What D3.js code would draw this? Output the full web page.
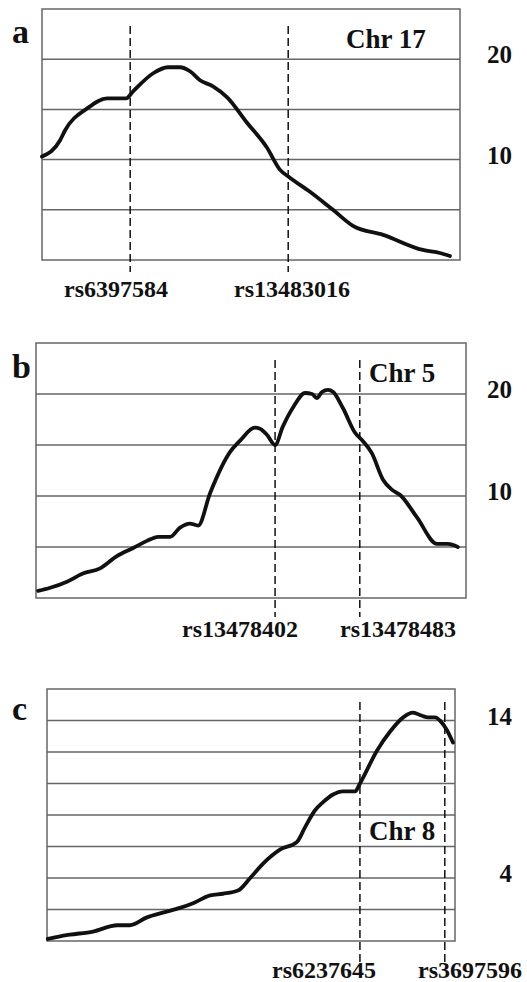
<!DOCTYPE html>
<html>
<head>
<meta charset="utf-8">
<title>LOD profiles</title>
<script src="https://cdn.jsdelivr.net/npm/d3@7"></script>
<style>
body { margin: 0; background: #fff; }
text { font-family: "Liberation Serif", "Times New Roman", serif; font-weight: bold; fill: #111; }
.grid line { stroke: #666; stroke-width: 1.5px; }
.frame { fill: none; stroke: #666; stroke-width: 1.5px; }
.marker { stroke: #111; stroke-width: 1.5px; stroke-dasharray: 8,4; }
.curve { fill: none; stroke: #111; stroke-width: 3.8px; stroke-linejoin: round; stroke-linecap: round; }
</style>
</head>
<body>
<svg width="527" height="982"></svg>
<script>

// panel a - Chr 17
var posA = [0, 4.3, 5.5, 10.8, 15.6, 20.1, 21.8, 26.6, 30.1, 33.0, 35.4, 37.8, 40.9, 44.3, 49.0, 53.8, 56.9, 59.3, 64.1, 69.6, 74.4, 81.6, 91.1, 95.2, 97.6];
var lodA = [10.3, 11.9, 12.9, 15.1, 16.1, 16.1, 16.8, 18.6, 19.2, 19.2, 18.8, 17.9, 17.3, 16.2, 13.7, 11.2, 9.0, 8.2, 6.8, 5.0, 3.4, 2.5, 1.0, 0.7, 0.4];
var markersA = [21.1, 58.9];
var markerNamesA = ["rs6397584", "rs13483016"];

// panel b - Chr 5
var posB = [0.5, 3.3, 7.2, 10.9, 14.9, 18.8, 22.6, 25.8, 28.4, 31.2, 33.5, 35.8, 37.7, 40.5, 45.1, 47.4, 50.9, 52.1, 53.7, 55.6, 57.4, 59.8, 62.6, 64.2, 65.3, 66.5, 67.9, 69.1, 71.4, 74.2, 76.0, 78.1, 80.7, 82.8, 84.7, 88.6, 93.3, 95.8, 98.1];
var lodB = [0.7, 1.0, 1.6, 2.4, 2.9, 4.1, 4.9, 5.6, 6.0, 6.0, 6.9, 7.3, 7.1, 10.3, 14.3, 15.4, 16.7, 16.6, 16.0, 15.0, 16.8, 18.7, 20.1, 20.0, 19.6, 20.2, 20.4, 20.2, 18.6, 16.2, 15.4, 14.2, 11.6, 10.6, 10.1, 7.9, 5.3, 5.3, 5.0];
var markersB = [55.6, 75.3];
var markerNamesB = ["rs13478402", "rs13478483"];

// panel c - Chr 8
var posC = [0.2, 3.2, 5.6, 11.3, 17.2, 20.3, 24.5, 28.4, 32.6, 35.8, 40.0, 43.1, 46.8, 49.8, 52.9, 57.1, 61.3, 63.2, 65.7, 67.6, 70.1, 72.5, 75.5, 76.7, 80.9, 84.1, 87.3, 89.7, 91.9, 93.4, 95.1, 96.3, 98.0, 99.5];
var lodC = [0.13, 0.3, 0.4, 0.6, 1.0, 1.0, 1.5, 1.8, 2.1, 2.4, 2.9, 3.0, 3.2, 4.0, 4.9, 5.8, 6.3, 7.2, 8.3, 8.8, 9.3, 9.5, 9.5, 10.0, 12.1, 13.3, 14.2, 14.5, 14.3, 14.2, 14.2, 14.0, 13.4, 12.6];
var markersC = [76.7, 97.5];
var markerNamesC = ["rs6237645", "rs3697596"];

var svg = d3.select("svg");

var panels = [
  { letter: "a", chr: "Chr 17", pos: posA, lod: lodA, markers: markersA, names: markerNamesA,
    box: [42, 460, 9, 260], ymax: 25, step: 5, labels: [20, 10],
    letterXY: [12, 43], chrXY: [346, 48], dashY: [26, 272], nameX: [116, 292], nameY: 297 },
  { letter: "b", chr: "Chr 5", pos: posB, lod: lodB, markers: markersB, names: markerNamesB,
    box: [36, 466, 343, 598], ymax: 25, step: 5, labels: [20, 10],
    letterXY: [12, 378], chrXY: [369, 382], dashY: [360, 617], nameX: [240, 398], nameY: 637 },
  { letter: "c", chr: "Chr 8", pos: posC, lod: lodC, markers: markersC, names: markerNamesC,
    box: [47, 455, 689, 941], ymax: 16, step: 2, labels: [14, 4],
    letterXY: [12, 720], chrXY: [369, 840], dashY: [702, 962], nameX: [324, 470], nameY: 978 }
];

panels.forEach(function(p) {
  var x = d3.scaleLinear().domain([0, 100]).range([p.box[0], p.box[1]]);
  var y = d3.scaleLinear().domain([0, p.ymax]).range([p.box[3], p.box[2]]);
  var g = svg.append("g");

  var ticks = d3.range(p.step, p.ymax, p.step);
  g.append("g").attr("class", "grid")
    .selectAll("line")
    .data(ticks)
    .enter().append("line")
      .attr("x1", x(0)).attr("x2", x(100))
      .attr("y1", function(d) { return y(d); })
      .attr("y2", function(d) { return y(d); });

  g.append("rect").attr("class", "frame")
    .attr("x", x(0)).attr("y", y(p.ymax))
    .attr("width", x(100) - x(0)).attr("height", y(0) - y(p.ymax));

  g.selectAll(".marker")
    .data(p.markers)
    .enter().append("line")
      .attr("class", "marker")
      .attr("x1", function(d) { return x(d); })
      .attr("x2", function(d) { return x(d); })
      .attr("y1", p.dashY[0]).attr("y2", p.dashY[1]);

  var line = d3.line()
    .x(function(d, i) { return x(p.pos[i]); })
    .y(function(d) { return y(d); })
    .curve(d3.curveMonotoneX);

  g.append("path").attr("class", "curve").attr("d", line(p.lod));

  g.selectAll(".ylab")
    .data(p.labels)
    .enter().append("text")
      .attr("x", 512)
      .attr("y", function(d) { return y(d) + 4; })
      .attr("text-anchor", "end")
      .style("font-size", "25px")
      .text(function(d) { return d; });

  g.selectAll(".mname")
    .data(p.names)
    .enter().append("text")
      .attr("x", function(d, i) { return p.nameX[i]; })
      .attr("y", p.nameY)
      .attr("text-anchor", "middle")
      .style("font-size", "24px")
      .text(function(d) { return d; });

  g.append("text").attr("x", p.letterXY[0]).attr("y", p.letterXY[1])
    .style("font-size", "34px").text(p.letter);
  g.append("text").attr("x", p.chrXY[0]).attr("y", p.chrXY[1])
    .style("font-size", "27px").text(p.chr);
});

</script>
</body>
</html>
